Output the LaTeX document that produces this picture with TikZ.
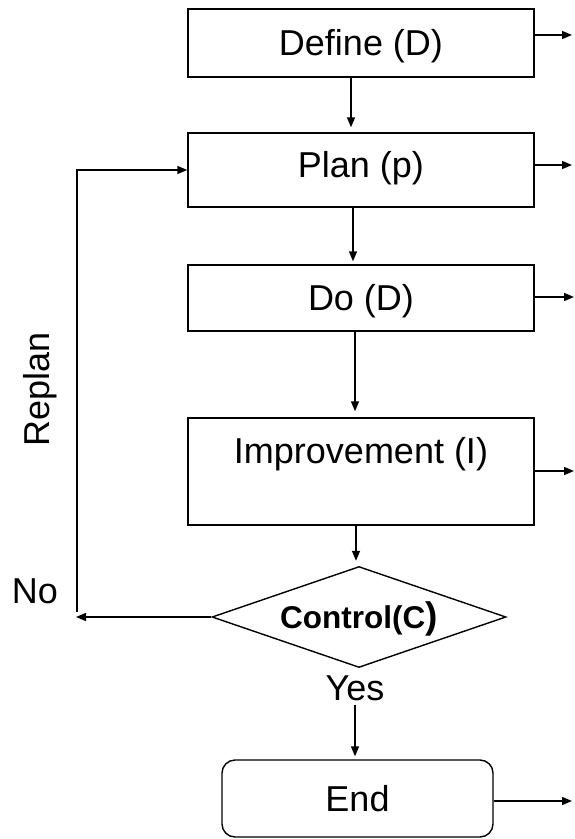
\documentclass[tikz,border=0pt]{standalone}
\usepackage{fontspec}
\setmainfont{Liberation Sans}
\usetikzlibrary{arrows.meta,shapes.geometric,calc}
\begin{document}
\begin{tikzpicture}[x=1pt,y=-1pt,
  bigfont/.style={font=\fontsize{36}{43}\selectfont},
  box/.style={draw, line width=1.4pt, inner sep=0pt, minimum width=346pt, text height=25.8pt, bigfont},
  arr/.style={line width=1.5pt, -{Triangle[length=10pt,width=8pt]}},
  lbl/.style={inner sep=0pt, text height=25.8pt, text depth=0pt, bigfont}]
\path[fill=white] (0,0) rectangle (575,839);
\node[box, minimum height=68pt, text depth=0pt] (define) at (361,43) {Define (D)};
\node[box, minimum height=74pt, text depth=10pt] (plan) at (361,170) {Plan (p)};
\node[box, minimum height=66pt, text depth=0pt] (do) at (361,298) {Do (D)};
\node[box, minimum height=107pt, text depth=41pt] (improve) at (361,471.5) {Improvement (I)};
\node[draw, diamond, line width=1.4pt, inner sep=0pt, minimum width=294pt, minimum height=101pt, aspect=2.9, text height=22pt, text depth=0pt, font=\bfseries\fontsize{31.5}{38}\selectfont] (control) at (359,617) {Control(C{\fontsize{37}{44}\selectfont)}};
\node[lbl] (yes) at (355,688) {Yes};
\node[lbl] (no) at (35,591) {No};
\node[lbl, rotate=90] (replan) at (37,389) {Replan};
\node[draw, rounded corners=13pt, line width=1.4pt, inner sep=0pt, minimum width=271pt, minimum height=77pt, text height=25.8pt, text depth=0pt, bigfont] (endbox) at (357.5,798.5) {End};
% downward flow
\draw[arr, shorten >=5pt] ([xshift=-10pt]define.south) -- ([xshift=-10pt]plan.north);
\draw[arr, shorten >=3pt] ([xshift=-8pt]plan.south) -- ([xshift=-8pt]do.north);
\draw[arr, shorten >=6pt] ([xshift=-6pt]do.south) -- ([xshift=-6pt]improve.north);
\draw[arr, shorten >=5pt] ([xshift=-5pt]improve.south) -- ([xshift=-3pt]control.north);
\draw[arr, shorten <=4pt, shorten >=3pt] (yes.south) -- (yes.south |- endbox.north);
% outgoing arrows
\coordinate (o1) at (572,35);
\coordinate (o2) at (572,165);
\coordinate (o3) at (574,297);
\coordinate (o4) at (574,471);
\coordinate (o5) at (572,801);
\draw[arr] (define.east |- o1) -- (o1);
\draw[arr] (plan.east |- o2) -- (o2);
\draw[arr] (do.east |- o3) -- (o3);
\draw[arr] (improve.east |- o4) -- (o4);
\draw[arr] (endbox.east |- o5) -- (o5);
% replan loop
\coordinate (noEnd) at (76,617);
\coordinate (loopB) at (77,612);
\draw[arr] (control.west) -- (noEnd);
\draw[arr] (loopB) |- (plan.west);
\end{tikzpicture}
\end{document}
